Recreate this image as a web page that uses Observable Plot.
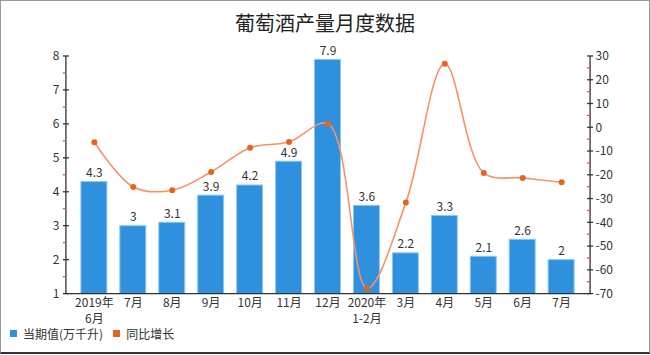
<!DOCTYPE html>
<html><head><meta charset="utf-8">
<script src="https://cdn.jsdelivr.net/npm/d3@7"></script>
<script src="https://cdn.jsdelivr.net/npm/@observablehq/plot@0.6"></script>
<style>
body{margin:0;font-family:"Noto Sans CJK SC","Noto Sans",sans-serif;background:#fff}
#wrap{position:relative;width:648px;height:351px;border:1px solid #999;border-bottom:2px solid #333;overflow:hidden;background:#fff}
#title{position:absolute;top:7px;left:0;width:100%;text-align:center;font-size:20px;color:#222}
#chart{position:absolute;top:39px;left:-1px}
#legend{position:absolute;top:324px;left:9px;font-size:12px;color:#333;display:flex;align-items:center;gap:4px}
.sw{display:inline-block;width:7px;height:7px;margin-right:2px}
</style></head>
<body>
<div id="wrap">
<div id="title">葡萄酒产量月度数据</div>
<div id="chart"></div>
<div id="legend"><span class="sw" style="background:#2F91DE"></span><span>当期值(万千升)</span><span class="sw" style="background:#E8641E;margin-left:6px"></span><span>同比增长</span></div>
</div>
<script>
const categories = ["2019年\n6月","7月","8月","9月","10月","11月","12月","2020年\n1-2月","3月","4月","5月","6月","7月"];
const output = [4.3,3,3.1,3.9,4.2,4.9,7.9,3.6,2.2,3.3,2.1,2.6,2];
const growth = [-6.1,-24.9,-26.3,-18.6,-8.4,-6,1.7,-67.6,-31.5,26.9,-19,-21.1,-22.9];
const leftTicks = [1,2,3,4,5,6,7,8];
const rightTicks = [-70,-60,-50,-40,-30,-20,-10,0,10,20,30];

const toLeft = v => 1 + (v + 70) * 7 / 100;
const fromLeft = d => Math.round((d - 1) * 100 / 7 - 70);

const data = categories.map((c,i)=>({i, c, v: output[i], g: toLeft(growth[i])}));

const plot = Plot.plot({
  width: 650, height: 285,
  marginLeft: 66, marginRight: 59, marginTop: 16, marginBottom: 31,
  style: {fontFamily: '"Noto Sans CJK SC","Noto Sans",sans-serif', fontSize: "12px", color: "#333", background: "transparent"},
  x: {type: "band", domain: d3.range(categories.length), padding: 0.33, label: null},
  y: {domain: [1, 8], label: null},
  marks: [
    Plot.axisX({tickSize: 0, tickPadding: 2, fontSize: 12, lineHeight: 1.3, fill: "#333", label: null, tickFormat: i => categories[i]}),
    Plot.axisY({anchor: "left", ticks: leftTicks, tickFormat: d => String(d), tickSize: 0, tickPadding: 7, fontSize: 12, fill: "#333", label: null}),
    Plot.axisY({anchor: "right", ticks: rightTicks.map(toLeft), tickFormat: fromLeft, tickSize: 0, tickPadding: 5, fontSize: 12, fill: "#333", label: null}),
    Plot.barY(data, {x: "i", y1: 1, y2: "v", fill: "#2F91DE", stroke: "#8CC8F2", strokeWidth: 1}),
    Plot.text(data, {x: "i", y: "v", text: d => String(d.v), dy: -9, fontSize: 12, fill: "#333"}),
    Plot.line(data, {x: "i", y: "g", stroke: "#F2946A", strokeWidth: 1.6, curve: "catmull-rom"}),
    Plot.dot(data, {x: "i", y: "g", r: 3, fill: "#E8641E", stroke: "none"})
  ]
});
document.getElementById("chart").append(plot);

// axis lines and tick marks from the scales
const ys = plot.scale("y"), xs = plot.scale("x");
const [x0, x1] = xs.range;
const yb = ys.apply(1), yt = ys.apply(8);
const svg = d3.select(plot);
const g = svg.append("g").attr("stroke-width", 1.3);
g.append("line").attr("x1", x0).attr("x2", x0).attr("y1", yt).attr("y2", yb).attr("stroke", "#333");
g.append("line").attr("x1", x1).attr("x2", x1).attr("y1", yt).attr("y2", yb).attr("stroke", "#333");
g.append("line").attr("x1", x0).attr("x2", x1).attr("y1", yb).attr("y2", yb).attr("stroke", "#333");
leftTicks.forEach(t => {
  g.append("line").attr("x1", x0-3).attr("x2", x0+3).attr("y1", ys.apply(t)).attr("y2", ys.apply(t)).attr("stroke", "#333");
  if (t < 8) g.append("line").attr("x1", x0-3).attr("x2", x0).attr("y1", ys.apply(t+0.5)).attr("y2", ys.apply(t+0.5)).attr("stroke", "#E05050");
});
rightTicks.forEach(t => {
  g.append("line").attr("x1", x1-3).attr("x2", x1+3).attr("y1", ys.apply(toLeft(t))).attr("y2", ys.apply(toLeft(t))).attr("stroke", "#333");
  if (t < 30) g.append("line").attr("x1", x1-3).attr("x2", x1).attr("y1", ys.apply(toLeft(t+5))).attr("y2", ys.apply(toLeft(t+5))).attr("stroke", "#E05050");
});
</script>
</body></html>
